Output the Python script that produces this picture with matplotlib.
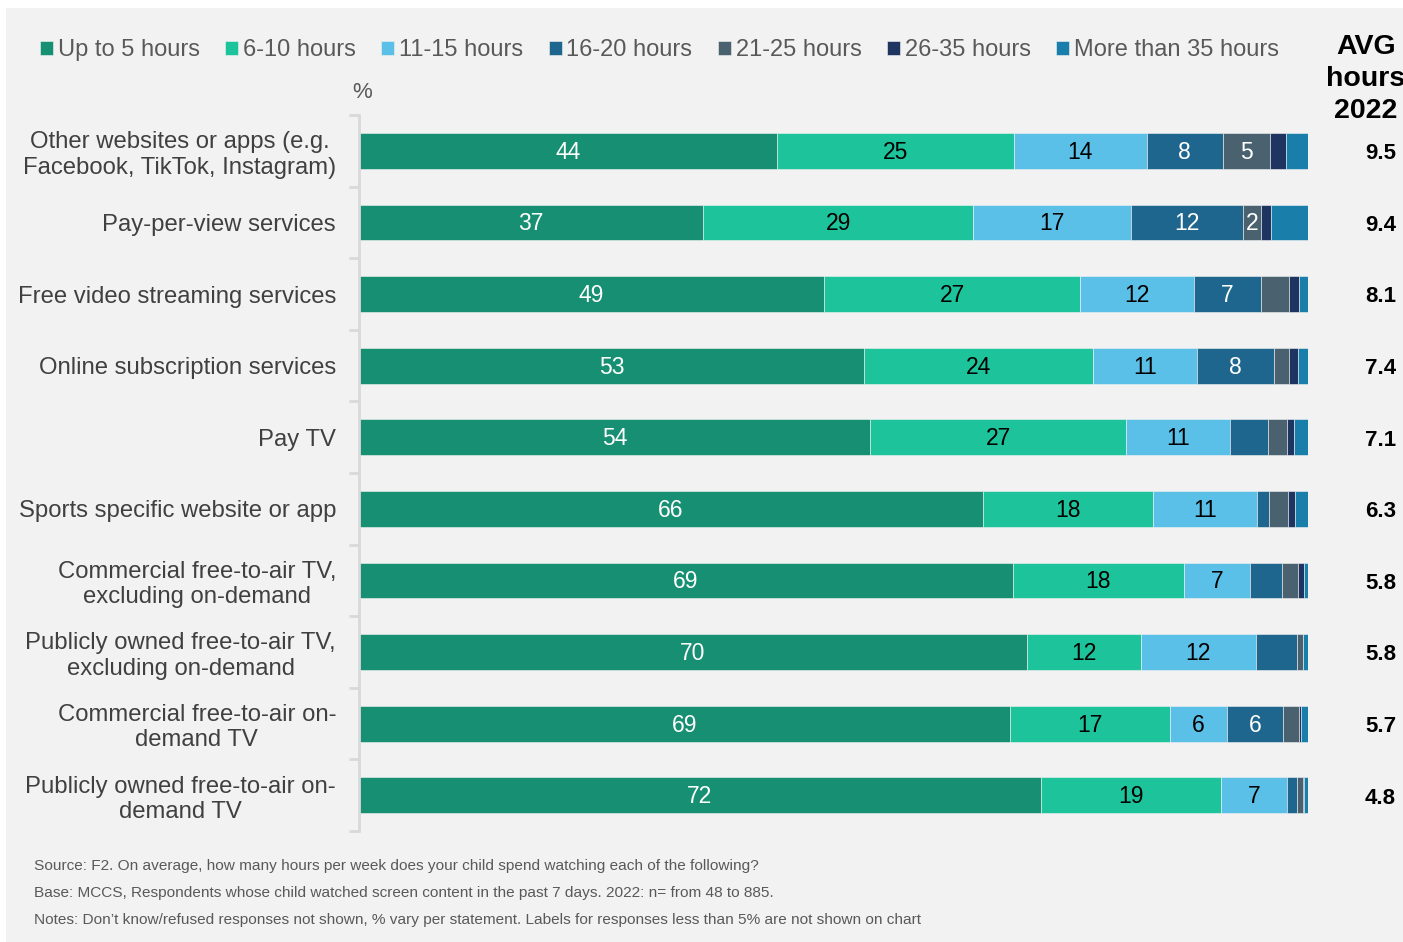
import numpy as np
import matplotlib.pyplot as plt
from matplotlib.patches import Rectangle
from matplotlib.transforms import blended_transform_factory

plt.rcParams['font.family'] = ['Liberation Sans', 'DejaVu Sans']

categories = [
    "Other websites or apps (e.g.\nFacebook, TikTok, Instagram)",
    "Pay-per-view services",
    "Free video streaming services",
    "Online subscription services",
    "Pay TV",
    "Sports specific website or app",
    "Commercial free-to-air TV,\nexcluding on-demand",
    "Publicly owned free-to-air TV,\nexcluding on-demand",
    "Commercial free-to-air on-\ndemand TV",
    "Publicly owned free-to-air on-\ndemand TV",
]

series_names = ["Up to 5 hours", "6-10 hours", "11-15 hours", "16-20 hours",
                "21-25 hours", "26-35 hours", "More than 35 hours"]

up_to_5 = [44, 37, 49, 53, 54, 66, 69, 70, 69, 72]
h6_10 = [25, 29, 27, 24, 27, 18, 18, 12, 17, 19]
h11_15 = [14, 17, 12, 11, 11, 11, 7, 12, 6, 7]
h16_20 = [8, 12, 7, 8, 4, 1.3, 3.4, 4.3, 6, 1]
h21_25 = [5, 2, 3, 1.6, 2, 2, 1.6, 0.7, 1.6, 0.7]
h26_35 = [1.7, 1, 1, 1, 0.7, 0.7, 0.7, 0, 0.3, 0.1]
over_35 = [2.3, 4, 1, 1, 1.5, 1.4, 0.4, 0.5, 0.7, 0.4]

avg_hours = ["9.5", "9.4", "8.1", "7.4", "7.1", "6.3", "5.8", "5.8", "5.7", "4.8"]

colors = ["#178F72", "#1DC49B", "#5BC0E8", "#1F668E", "#4A626F", "#1E3461", "#1A7EAB"]
text_colors = ["white", "black", "black", "white", "white", "white", "white"]

# labels under 5% are hidden, except the "2" on pay-per-view
extra_labels = {(1, 4)}

data = np.array([up_to_5, h6_10, h11_15, h16_20, h21_25, h26_35, over_35], dtype=float)
pct = data / data.sum(axis=0) * 100  # 100% stacked

fig = plt.figure(figsize=(14.03, 9.42), dpi=100, facecolor="white")
fig.patches.append(Rectangle((6 / 1403, 0), 1, 1 - 8 / 942, transform=fig.transFigure,
                             facecolor="#F2F2F2", edgecolor="none", zorder=-10))

ax = fig.add_axes([359 / 1403, 1 - 831 / 942, 949 / 1403, 716 / 942])
ax.set_facecolor("none")

y = np.arange(len(categories))
left = np.zeros(len(categories))
for i, name in enumerate(series_names):
    ax.barh(y, pct[i], left=left, height=0.5, color=colors[i], label=name,
            edgecolor="#F2F2F2", linewidth=0.4)
    for j in range(len(categories)):
        if data[i, j] >= 5 or (j, i) in extra_labels:
            ax.text(left[j] + pct[i, j] / 2, y[j] - 0.015, f"{data[i, j]:g}",
                    ha="center", va="center_baseline", fontsize=16.5, color=text_colors[i])
    left += pct[i]

ax.set_xlim(0, 100)
ax.set_ylim(len(categories) - 0.5, -0.5)
ax.set_xticks([])
ax.set_yticks(y)
ax.set_yticks(np.arange(-0.5, len(categories), 1), minor=True)
ax.tick_params(axis="y", which="major", length=0, pad=16.5, labelsize=17.2, labelcolor="#404040")
ax.tick_params(axis="y", which="minor", length=7, width=2, color="#D9D9D9")
ax.set_yticklabels(categories, multialignment="center", linespacing=1.2)
for s in ["top", "right", "bottom"]:
    ax.spines[s].set_visible(False)
ax.spines["left"].set_color("#D9D9D9")
ax.spines["left"].set_linewidth(2)

# average hours column
tr = blended_transform_factory(fig.transFigure, ax.transData)
for j, v in enumerate(avg_hours):
    ax.text(1396 / 1403, y[j] + 0.04, v, transform=tr, ha="right", va="center",
            fontsize=16, fontweight="bold", color="black")
fig.text(1366 / 1403, 1 - 79 / 942, "AVG\nhours\n2022", ha="center", va="center",
         fontsize=20.5, fontweight="bold", color="black", linespacing=1.3)

fig.text(352 / 1403, 1 - 92 / 942, "%", ha="left", va="center", fontsize=16, color="#595959")

handles, labels = ax.get_legend_handles_labels()
fig.legend(handles, labels, loc="center left", bbox_to_anchor=(40 / 1403, 1 - 50 / 942),
           ncol=7, frameon=False, fontsize=17, labelcolor="#595959",
           handlelength=0.55, handleheight=0.55, handletextpad=0.2, columnspacing=1.08,
           borderaxespad=0, borderpad=0)

notes = [
    "Source: F2. On average, how many hours per week does your child spend watching each of the following?",
    "Base: MCCS, Respondents whose child watched screen content in the past 7 days. 2022: n= from 48 to 885.",
    "Notes: Don\u2019t know/refused responses not shown, % vary per statement. Labels for responses less than 5% are not shown on chart",
]
for k, line in enumerate(notes):
    fig.text(34 / 1403, 1 - (866 + 27 * k) / 942, line, ha="left", va="center",
             fontsize=11.1, color="#595959")

fig.savefig("out.png", dpi=100, facecolor=fig.get_facecolor())
